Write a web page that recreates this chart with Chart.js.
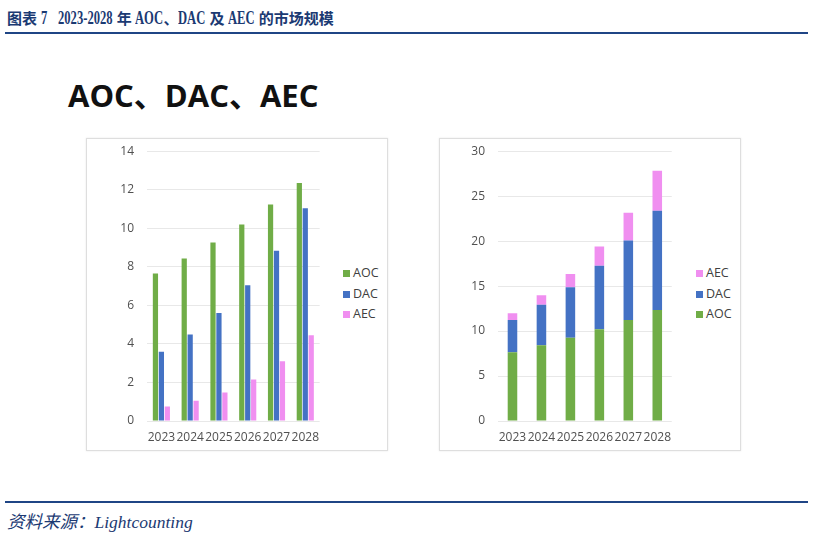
<!DOCTYPE html>
<html>
<head>
<meta charset="utf-8">
<script src="https://cdn.jsdelivr.net/npm/chart.js@4.4.0/dist/chart.umd.min.js"></script>
<style>
  body { margin: 0; width: 814px; height: 535px; position: relative; background: #fff; overflow: hidden; font-family: "Open Sans", "Noto Sans CJK SC", sans-serif; }
  .title { position: absolute; left: 7px; top: 7px; font: bold 15px "Liberation Serif", "Noto Sans CJK SC", serif; color: #1b3a73; white-space: nowrap; }
  .title .lat { display: inline-block; font-size: 18px; line-height: 15px; transform-origin: left center; }
  .rule { position: absolute; left: 5px; width: 803px; height: 2px; background: #1f4585; }
  .heading { position: absolute; left: 68px; top: 71px; font: bold 31px "Open Sans", "Noto Sans CJK SC", sans-serif; color: #111; white-space: nowrap; }
  .panel { position: absolute; top: 138px; width: 300px; height: 311px; border: 1px solid #dedede; box-shadow: 0 0 2px #e8e8e8; background: #fff; }
  canvas { position: absolute; }
  .legend { position: absolute; font: 12.5px "Open Sans", sans-serif; color: #404040; }
  .legend div { height: 20.5px; line-height: 20.5px; white-space: nowrap; }
  .legend span { display: inline-block; width: 7px; height: 7px; margin-right: 3px; vertical-align: 0px; }
  .source { position: absolute; left: 7px; top: 508px; font: italic 17.5px "Liberation Serif", "Noto Sans CJK SC", serif; color: #1b3a73; white-space: nowrap; }
</style>
</head>
<body>
<div class="title" id="title">图表 <span class="lat">7</span>&nbsp;&nbsp;&nbsp;<span class="lat">2023-2028</span> 年 <span class="lat">AOC</span>、<span class="lat">DAC</span> 及 <span class="lat">AEC</span> 的市场规模</div>
<div class="rule" style="top:32px"></div>
<div class="heading">AOC、DAC、AEC</div>

<div class="panel" style="left:86px"></div>
<div class="panel" style="left:439px"></div>

<canvas id="groupChart" width="240" height="315" style="left:88px;top:131px"></canvas>
<canvas id="stackChart" width="239" height="315" style="left:441px;top:131px"></canvas>

<div class="legend" id="legendLeft" style="left:343px;top:263px"></div>
<div class="legend" id="legendRight" style="left:696px;top:263px"></div>

<div class="rule" style="top:501px"></div>
<div class="source">资料来源：Lightcounting</div>

<script>
// ---------- DATA ----------
const years = ['2023', '2024', '2025', '2026', '2027', '2028'];
const aoc = [7.65, 8.43, 9.26, 10.2, 11.23, 12.35];
const dac = [3.59, 4.49, 5.61, 7.05, 8.83, 11.04];
const aec = [0.75, 1.05, 1.48, 2.15, 3.1, 4.45];
const leftTicks = { max: 14, step: 2 };
const rightTicks = { max: 30, step: 5 };

const colors = { AOC: '#70ad47', DAC: '#4472c4', AEC: '#f08ff0' };

// ---------- Shared options ----------
function baseOptions(tick, yWidth, stacked) {
  return {
    responsive: false,
    animation: false,
    devicePixelRatio: 1,
    layout: { padding: { top: 2, right: 0, bottom: 0, left: 0 } },
    plugins: { legend: { display: false }, tooltip: { enabled: false } },
    scales: {
      x: {
        stacked,
        grid: { display: false, drawTicks: false },
        border: { display: false },
        ticks: { color: '#505050', font: { family: 'Open Sans', size: 12 }, padding: 9, maxRotation: 0, autoSkip: false },
        afterFit: s => { s.height = 25; }
      },
      y: {
        stacked,
        min: 0, max: tick.max,
        grid: { color: '#e8e8e8', lineWidth: 1, drawTicks: false },
        border: { display: false },
        ticks: { stepSize: tick.step, color: '#505050', font: { family: 'Open Sans', size: 12 }, padding: 13 },
        afterFit: s => { s.width = yWidth; }
      }
    }
  };
}

// ---------- Grouped chart ----------
new Chart(document.getElementById('groupChart'), {
  type: 'bar',
  data: {
    labels: years,
    datasets: [
      { label: 'AOC', data: aoc, backgroundColor: colors.AOC },
      { label: 'DAC', data: dac, backgroundColor: colors.DAC },
      { label: 'AEC', data: aec, backgroundColor: colors.AEC }
    ].map(d => ({ ...d, categoryPercentage: 0.62, barPercentage: 0.88 }))
  },
  options: baseOptions(leftTicks, 59, false)
});

// ---------- Stacked chart ----------
new Chart(document.getElementById('stackChart'), {
  type: 'bar',
  data: {
    labels: years,
    datasets: [
      { label: 'AOC', data: aoc, backgroundColor: colors.AOC },
      { label: 'DAC', data: dac, backgroundColor: colors.DAC },
      { label: 'AEC', data: aec, backgroundColor: colors.AEC }
    ].map(d => ({ ...d, categoryPercentage: 1, barPercentage: 0.33 }))
  },
  options: baseOptions(rightTicks, 57, true)
});

// ---------- Legends ----------
function legend(id, names) {
  document.getElementById(id).innerHTML = names
    .map(n => `<div><span style="background:${colors[n]}"></span>${n}</div>`).join('');
}
legend('legendLeft', ['AOC', 'DAC', 'AEC']);
legend('legendRight', ['AEC', 'DAC', 'AOC']);

// narrow the latin parts of the title like the condensed serif in the reference
document.querySelectorAll('.title .lat').forEach(s => {
  const w = s.offsetWidth;
  s.style.transform = 'scaleX(0.7)';
  s.style.marginRight = `${-0.3 * w}px`;
});
</script>
</body>
</html>
